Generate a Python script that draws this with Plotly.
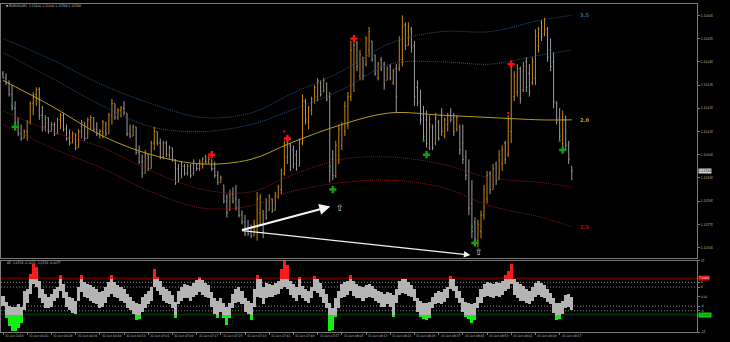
import plotly.graph_objects as go

# ---------------- main chart data (EURUSD M1, one bar per minute) ----------------
opens = [1.11640,1.11638,1.11636,1.11631,1.11625,1.11619,1.11614,1.11612,1.11615,1.11619,
 1.11627,1.11631,1.11633,1.11622,1.11617,1.11621,1.11615,1.11618,1.11614,1.11620,
 1.11622,1.11616,1.11612,1.11610,1.11614,1.11608,1.11615,1.11619,1.11612,1.11620,
 1.11621,1.11616,1.11614,1.11615,1.11619,1.11614,1.11622,1.11627,1.11621,1.11624,
 1.11625,1.11623,1.11614,1.11613,1.11617,1.11606,1.11602,1.11597,1.11605,1.11599,
 1.11610,1.11615,1.11610,1.11604,1.11610,1.11605,1.11608,1.11603,1.11599,1.11595,
 1.11600,1.11597,1.11600,1.11597,1.11601,1.11599,1.11601,1.11604,1.11602,1.11603,
 1.11599,1.11596,1.11593,1.11592,1.11585,1.11581,1.11588,1.11586,1.11582,1.11579,
 1.11576,1.11573,1.11572,1.11570,1.11574,1.11580,1.11581,1.11586,1.11581,1.11586,
 1.11581,1.11587,1.11590,1.11597,1.11604,1.11609,1.11607,1.11605,1.11600,1.11610,
 1.11628,1.11619,1.11624,1.11628,1.11630,1.11636,1.11632,1.11636,1.11630,1.11603,
 1.11596,1.11603,1.11609,1.11615,1.11618,1.11630,1.11635,1.11653,1.11639,1.11647,
 1.11644,1.11650,1.11654,1.11648,1.11638,1.11646,1.11644,1.11637,1.11643,1.11636,
 1.11642,1.11642,1.11646,1.11661,1.11652,1.11659,1.11652,1.11634,1.11628,1.11622,
 1.11620,1.11608,1.11617,1.11610,1.11619,1.11622,1.11613,1.11618,1.11623,1.11621,
 1.11616,1.11617,1.11610,1.11604,1.11598,1.11584,1.11576,1.11568,1.11572,1.11579,
 1.11586,1.11597,1.11590,1.11601,1.11595,1.11601,1.11610,1.11605,1.11615,1.11630,
 1.11632,1.11642,1.11633,1.11645,1.11640,1.11636,1.11638,1.11652,1.11662,1.11657,
 1.11659,1.11650,1.11645,1.11627,1.11621,1.11610,1.11620,1.11609,1.11600]
highs = [1.11641,1.11640,1.11637,1.11635,1.11628,1.11621,1.11618,1.11616,1.11620,1.11628,
 1.11632,1.11634,1.11634,1.11626,1.11622,1.11621,1.11619,1.11619,1.11621,1.11623,
 1.11623,1.11618,1.11616,1.11615,1.11614,1.11616,1.11620,1.11619,1.11621,1.11622,
 1.11621,1.11619,1.11616,1.11620,1.11619,1.11623,1.11629,1.11627,1.11625,1.11626,
 1.11628,1.11623,1.11618,1.11618,1.11617,1.11609,1.11605,1.11607,1.11605,1.11611,
 1.11617,1.11615,1.11612,1.11611,1.11611,1.11609,1.11608,1.11603,1.11601,1.11602,
 1.11601,1.11601,1.11601,1.11603,1.11601,1.11603,1.11604,1.11605,1.11604,1.11603,
 1.11602,1.11598,1.11596,1.11592,1.11588,1.11590,1.11591,1.11592,1.11586,1.11581,
 1.11579,1.11577,1.11575,1.11577,1.11589,1.11588,1.11581,1.11586,1.11588,1.11586,
 1.11589,1.11592,1.11599,1.11611,1.11611,1.11610,1.11609,1.11607,1.11612,1.11631,
 1.11629,1.11626,1.11630,1.11635,1.11638,1.11637,1.11638,1.11636,1.11632,1.11607,
 1.11611,1.11618,1.11619,1.11628,1.11632,1.11654,1.11655,1.11654,1.11650,1.11647,
 1.11656,1.11660,1.11654,1.11648,1.11645,1.11647,1.11645,1.11643,1.11644,1.11642,
 1.11644,1.11656,1.11665,1.11662,1.11662,1.11660,1.11654,1.11637,1.11633,1.11626,
 1.11624,1.11622,1.11618,1.11623,1.11620,1.11625,1.11621,1.11623,1.11625,1.11623,
 1.11622,1.11618,1.11618,1.11607,1.11603,1.11594,1.11578,1.11577,1.11581,1.11592,
 1.11598,1.11598,1.11601,1.11602,1.11607,1.11609,1.11611,1.11622,1.11643,1.11641,
 1.11644,1.11643,1.11645,1.11647,1.11644,1.11647,1.11659,1.11660,1.11663,1.11664,
 1.11660,1.11655,1.11649,1.11628,1.11625,1.11624,1.11622,1.11611,1.11600]
lows = [1.11638,1.11635,1.11630,1.11624,1.11618,1.11613,1.11611,1.11612,1.11611,1.11618,
 1.11622,1.11626,1.11620,1.11615,1.11615,1.11614,1.11615,1.11613,1.11614,1.11616,
 1.11615,1.11611,1.11609,1.11610,1.11607,1.11608,1.11612,1.11611,1.11612,1.11616,
 1.11615,1.11613,1.11612,1.11612,1.11613,1.11614,1.11618,1.11620,1.11620,1.11621,
 1.11622,1.11613,1.11612,1.11613,1.11605,1.11601,1.11595,1.11597,1.11598,1.11599,
 1.11607,1.11609,1.11603,1.11603,1.11604,1.11603,1.11602,1.11592,1.11593,1.11595,
 1.11596,1.11596,1.11595,1.11596,1.11598,1.11598,1.11599,1.11601,1.11601,1.11598,
 1.11595,1.11592,1.11593,1.11584,1.11578,1.11581,1.11584,1.11581,1.11578,1.11575,
 1.11570,1.11570,1.11569,1.11570,1.11568,1.11575,1.11569,1.11577,1.11581,1.11580,
 1.11581,1.11586,1.11588,1.11596,1.11601,1.11598,1.11599,1.11598,1.11600,1.11609,
 1.11618,1.11616,1.11622,1.11627,1.11628,1.11630,1.11632,1.11628,1.11593,1.11594,
 1.11595,1.11601,1.11607,1.11613,1.11616,1.11628,1.11632,1.11641,1.11637,1.11637,
 1.11643,1.11647,1.11645,1.11639,1.11637,1.11641,1.11633,1.11637,1.11637,1.11635,
 1.11623,1.11641,1.11643,1.11650,1.11652,1.11649,1.11626,1.11626,1.11618,1.11611,
 1.11608,1.11607,1.11607,1.11609,1.11611,1.11613,1.11612,1.11615,1.11619,1.11613,
 1.11615,1.11605,1.11601,1.11594,1.11579,1.11569,1.11566,1.11565,1.11569,1.11577,
 1.11584,1.11588,1.11590,1.11592,1.11594,1.11598,1.11601,1.11604,1.11610,1.11628,
 1.11630,1.11627,1.11632,1.11632,1.11630,1.11635,1.11635,1.11649,1.11654,1.11656,
 1.11645,1.11641,1.11625,1.11618,1.11611,1.11608,1.11607,1.11601,1.11594]
closes = [1.11638,1.11636,1.11631,1.11625,1.11619,1.11614,1.11612,1.11615,1.11619,1.11627,
 1.11631,1.11633,1.11622,1.11617,1.11621,1.11615,1.11618,1.11614,1.11620,1.11622,
 1.11616,1.11612,1.11610,1.11614,1.11608,1.11615,1.11619,1.11612,1.11620,1.11621,
 1.11616,1.11614,1.11615,1.11619,1.11614,1.11622,1.11627,1.11621,1.11624,1.11625,
 1.11623,1.11614,1.11613,1.11617,1.11606,1.11602,1.11597,1.11605,1.11599,1.11610,
 1.11615,1.11610,1.11604,1.11610,1.11605,1.11608,1.11603,1.11593,1.11594,1.11600,
 1.11597,1.11600,1.11596,1.11602,1.11599,1.11602,1.11603,1.11602,1.11603,1.11599,
 1.11596,1.11593,1.11595,1.11585,1.11580,1.11588,1.11585,1.11582,1.11579,1.11576,
 1.11571,1.11571,1.11570,1.11575,1.11586,1.11587,1.11572,1.11578,1.11587,1.11581,
 1.11588,1.11591,1.11598,1.11609,1.11610,1.11600,1.11601,1.11599,1.11611,1.11628,
 1.11620,1.11625,1.11629,1.11634,1.11637,1.11631,1.11637,1.11629,1.11598,1.11596,
 1.11609,1.11616,1.11618,1.11626,1.11630,1.11650,1.11652,1.11643,1.11648,1.11639,
 1.11655,1.11658,1.11646,1.11640,1.11644,1.11642,1.11635,1.11642,1.11638,1.11641,
 1.11630,1.11654,1.11660,1.11652,1.11660,1.11651,1.11630,1.11627,1.11620,1.11613,
 1.11610,1.11618,1.11608,1.11621,1.11612,1.11615,1.11620,1.11622,1.11620,1.11615,
 1.11621,1.11607,1.11603,1.11596,1.11582,1.11572,1.11569,1.11575,1.11579,1.11590,
 1.11596,1.11590,1.11599,1.11594,1.11605,1.11607,1.11603,1.11620,1.11640,1.11639,
 1.11642,1.11629,1.11643,1.11634,1.11632,1.11645,1.11656,1.11659,1.11656,1.11663,
 1.11647,1.11643,1.11628,1.11620,1.11613,1.11620,1.11609,1.11603,1.11598]
bar_index = list(range(len(opens)))

# envelope bands (values read at anchor bars)
band_idx = [0, 16, 33, 49, 66, 82, 95, 112, 128, 145, 161, 178, 188]
band_outer_blue = [1.11655,1.11646,1.11635,1.11627,1.11621,1.11623,1.11631,1.11641,1.11653,1.11658,1.11658,1.11663,1.11665]
band_inner_blue = [1.11649,1.11638,1.11626,1.11617,1.11615,1.11618,1.11624,1.11633,1.11644,1.11645,1.11644,1.11648,1.11650]
band_middle = [1.11637,1.11626,1.11613,1.11605,1.11601,1.11603,1.11610,1.11618,1.11623,1.11622,1.11621,1.11620,1.11620]
band_inner_red = [1.11624,1.11615,1.11608,1.11598,1.11590,1.11589,1.11596,1.11603,1.11604,1.11601,1.11595,1.11593,1.11591]
band_outer_red = [1.11618,1.11608,1.11599,1.11589,1.11582,1.11583,1.11589,1.11593,1.11594,1.11591,1.11583,1.11578,1.11574]
band_labels = ["3.5", "2.0", "2.5"]

# signals
buy_idx = [4, 109, 140, 156, 185]
buy_price = [1.11617, 1.11590, 1.11605, 1.11567, 1.11607]
buy_dot_idx = [3, 108, 139, 155, 184]
buy_dot_price = [1.11626, 1.11600, 1.11611, 1.11574, 1.11611]
sell_idx = [69, 94, 116, 168]
sell_price = [1.11605, 1.11612, 1.11655, 1.11644]
sell_dot_idx = [68, 93, 167]
sell_dot_price = [1.11604, 1.11615, 1.11623]

# hand-drawn arrows (tail -> heads)
arrow_tail = (78.5, 1.115724)
arrow_heads = [(108.2, 1.115827), (154.5, 1.115618)]
arrow_marks = [(109.4, 1.115822), (155.4, 1.115630)]

price_ticks = [1.11565,1.11575,1.11585,1.11595,1.11605,1.11615,1.11625,1.11635,1.11645,1.11655,1.11665]
last_price = 1.11598
header_text = "▼ EURUSD,M1  1.11600 1.11600 1.11594 1.11598"

# ---------------- oscillator sub window ----------------
osc_hi = [0.4,-2.1,-3.8,-4.2,-4.2,-3.3,-4.2,2.5,3.3,9.6,
 13.8,12.5,6.7,3.3,1.3,0.0,1.3,3.3,4.2,9.2,
 5.4,2.1,0.0,-0.8,-1.7,4.2,9.2,6.3,5.4,5.0,
 4.2,3.3,2.1,2.5,4.2,6.3,9.2,6.3,5.0,4.2,
 3.3,1.3,0.0,-1.7,-2.9,-3.3,0.0,1.3,2.5,4.2,
 11.7,8.3,6.7,4.2,3.3,2.5,0.8,-2.1,2.5,4.2,
 5.4,5.0,4.6,5.8,7.1,7.9,7.1,5.8,5.0,2.1,
 -0.8,-1.7,-0.8,-2.9,-4.2,-2.9,1.3,3.3,4.2,2.5,
 -0.8,-1.7,-2.9,3.3,9.2,7.5,4.2,5.8,5.4,5.0,
 5.8,6.7,11.7,15.0,13.3,6.7,5.4,4.2,8.3,4.6,
 3.3,2.5,4.2,8.8,7.5,5.8,3.3,1.3,-2.9,-5.0,
 -0.8,2.5,5.4,6.3,6.7,9.2,6.7,5.4,4.6,4.2,
 5.0,5.4,4.6,3.3,2.5,2.1,1.3,2.1,1.7,0.8,
 3.3,6.7,7.5,7.5,6.3,5.0,3.3,-0.8,-1.7,-2.5,
 -2.9,-2.1,0.0,1.7,2.5,2.1,3.3,4.2,8.8,7.5,
 4.6,2.5,-0.8,-2.1,-2.9,-3.3,-2.9,0.0,3.3,5.4,
 6.3,5.8,5.4,6.3,5.8,6.7,9.2,10.8,13.8,7.5,
 6.3,5.4,4.6,3.3,2.5,4.2,5.8,6.7,5.8,5.0,
 3.3,1.7,-0.8,-2.5,-2.9,-1.7,0.8,1.3,0.0]
osc_lo = [-3.8,-9.2,-12.5,-14.6,-14.6,-13.3,-11.3,-5.8,-2.9,1.3,
 5.4,4.2,-0.8,-2.9,-5.0,-5.0,-4.2,-1.7,-0.8,2.5,
 -0.8,-4.2,-5.8,-7.1,-7.5,-1.7,2.1,0.0,-0.8,-1.7,
 -2.5,-3.3,-5.0,-4.2,-2.5,0.0,1.3,0.0,-0.8,-1.7,
 -2.9,-5.0,-5.8,-7.5,-10.0,-9.6,-6.3,-5.0,-3.3,-1.7,
 4.2,2.5,0.8,-1.7,-2.5,-3.3,-5.0,-9.2,-3.3,-1.7,
 -0.8,-0.8,-1.7,0.0,0.8,2.1,0.8,0.0,-0.8,-4.2,
 -7.5,-9.2,-6.7,-9.2,-12.1,-9.2,-5.0,-2.5,-2.1,-3.3,
 -6.3,-7.5,-10.0,-4.2,0.0,-0.8,-3.3,-0.8,0.0,0.0,
 0.8,1.3,3.3,4.2,3.3,0.8,-0.8,-1.7,0.8,-0.8,
 -1.7,-2.5,-0.8,2.5,1.7,0.0,-2.9,-5.0,-14.6,-14.2,
 -8.3,-5.0,-0.8,0.0,0.8,2.5,0.4,-0.8,-0.8,-1.7,
 -0.8,0.0,-0.8,-1.7,-2.9,-4.2,-4.6,-3.3,-4.2,-8.3,
 -2.9,0.8,1.7,1.3,0.4,0.0,-1.7,-6.7,-8.3,-9.6,
 -10.0,-9.2,-5.0,-3.3,-2.9,-3.3,-2.1,-0.8,3.3,2.5,
 -0.8,-2.9,-6.7,-8.3,-9.6,-11.3,-10.0,-5.0,-2.5,0.0,
 0.4,0.0,-0.4,0.4,0.0,0.8,2.5,3.3,5.4,0.8,
 -0.8,-1.7,-1.7,-2.9,-3.3,-1.7,0.0,0.8,0.0,-0.8,
 -2.1,-3.3,-7.1,-10.0,-9.6,-7.5,-5.0,-4.2,-5.8]
level_upper = 7.6
level_lower = -7.6
dotted_levels = [6, 4, -4, -6]
osc_ticks = [15, 6, 4, 0, -4, -6, -15]
osc_tick_text = ["15", "6", "4", "0.00", "-4", "-6", "-15"]
osc_header = "ΔΣ -3.6538 -6.1612 -3.6538 -4.0077"

# ---------------- time axis ----------------
time_idx = list(range(0, 185, 8))
time_text = ["31 Oct 2019","31 Oct 06:20","31 Oct 06:28","31 Oct 06:36","31 Oct 06:44",
 "31 Oct 06:53","31 Oct 07:01","31 Oct 07:09","31 Oct 07:17","31 Oct 07:25","31 Oct 07:33",
 "31 Oct 07:41","31 Oct 07:49","31 Oct 07:57","31 Oct 08:05","31 Oct 08:13","31 Oct 08:21",
 "31 Oct 08:29","31 Oct 08:37","31 Oct 08:45","31 Oct 08:53","31 Oct 09:01","31 Oct 09:09",
 "31 Oct 09:17"]

# ---------------- styling ----------------
ORANGE = "#c98614"
GRAY = "#9c9c9c"
AXIS = "#7a7a7a"
TXT = "#c4c4c4"
BLUE = "#1f5585"
YELLOW = "#b49c20"
RED = "#8c1818"
FONT = "DejaVu Sans Condensed, Liberation Sans Narrow, DejaVu Sans"
SMALL = 3.3
X_RANGE = [-0.66, 229.4]

fig = go.Figure()

for vals, col in [(band_outer_blue, BLUE), (band_inner_blue, BLUE),
                  (band_inner_red, RED), (band_outer_red, RED)]:
    fig.add_trace(go.Scatter(x=band_idx, y=vals, mode="lines", xaxis="x", yaxis="y",
                             line=dict(color=col, width=1, dash="1px,1px", shape="spline", smoothing=1),
                             hoverinfo="skip"))

fig.add_trace(go.Ohlc(x=bar_index, open=opens, high=highs, low=lows, close=closes,
                      xaxis="x", yaxis="y", tickwidth=0.3,
                      increasing=dict(line=dict(color=ORANGE, width=1)),
                      decreasing=dict(line=dict(color=GRAY, width=1)),
                      hoverinfo="skip"))

fig.add_trace(go.Scatter(x=band_idx, y=band_middle, mode="lines", xaxis="x", yaxis="y",
                         line=dict(color=YELLOW, width=1, shape="spline", smoothing=1), hoverinfo="skip"))

fig.add_trace(go.Scatter(x=buy_idx, y=buy_price, mode="markers", xaxis="x", yaxis="y",
                         marker=dict(symbol="cross", size=6, color="#10a010", line=dict(width=0))))
fig.add_trace(go.Scatter(x=buy_dot_idx, y=buy_dot_price, mode="markers", xaxis="x", yaxis="y",
                         marker=dict(symbol="square", size=2, color="#10a010")))
fig.add_trace(go.Scatter(x=sell_idx, y=sell_price, mode="markers", xaxis="x", yaxis="y",
                         marker=dict(symbol="cross", size=6, color="#ff1010", line=dict(width=0))))
fig.add_trace(go.Scatter(x=sell_dot_idx, y=sell_dot_price, mode="markers", xaxis="x", yaxis="y",
                         marker=dict(symbol="square", size=2, color="#ff1010")))

# oscillator band: gray between levels, red above, green below
g_x, g_base, g_h = [], [], []
r_x, r_h = [], []
gr_x, gr_base, gr_h = [], [], []
for i, (h, l) in enumerate(zip(osc_hi, osc_lo)):
    b = max(l, level_lower)
    t = min(h, level_upper)
    g_x.append(i)
    g_base.append(b)
    g_h.append(max(t - b, 0))
    if h > level_upper:
        r_x.append(i)
        r_h.append(h - level_upper)
    if l < level_lower:
        gr_x.append(i)
        gr_base.append(l)
        gr_h.append(level_lower - l)

fig.add_trace(go.Bar(x=g_x, y=g_h, base=g_base, width=1, xaxis="x2", yaxis="y2",
                     marker=dict(color="#b4b4b4", line=dict(width=0)), hoverinfo="skip"))
fig.add_trace(go.Bar(x=r_x, y=r_h, base=[level_upper] * len(r_x), width=1, xaxis="x2", yaxis="y2",
                     marker=dict(color="#ff1a1a", line=dict(width=0)), hoverinfo="skip"))
fig.add_trace(go.Bar(x=gr_x, y=gr_h, base=gr_base, width=1, xaxis="x2", yaxis="y2",
                     marker=dict(color="#12f012", line=dict(width=0)), hoverinfo="skip"))

shapes = []
for lv in dotted_levels:
    shapes.append(dict(type="line", xref="x2 domain", yref="y2", x0=0, x1=1, y0=lv, y1=lv,
                       line=dict(color="#8a8a8a", width=1, dash="1px,2px"), layer="below"))
shapes.append(dict(type="line", xref="x2 domain", yref="y2", x0=0, x1=1, y0=level_upper, y1=level_upper,
                   line=dict(color="#520000", width=2), layer="below"))
shapes.append(dict(type="line", xref="x2 domain", yref="y2", x0=0, x1=1, y0=level_lower, y1=level_lower,
                   line=dict(color="#003200", width=2), layer="below"))

ann = []
ann.append(dict(text=header_text, xref="paper", yref="paper", x=0.004, y=1 - 4 / 342, xanchor="left",
                yanchor="middle", showarrow=False, font=dict(size=SMALL, color=TXT, family=FONT)))
ann.append(dict(text=osc_header, xref="paper", yref="paper", x=0.006, y=1 - 264 / 342, xanchor="left",
                yanchor="middle", showarrow=False, font=dict(size=SMALL, color=TXT, family=FONT)))
for i, t in zip(time_idx, time_text):
    ann.append(dict(text=t, xref="x2", yref="paper", x=i, y=1 - 337.5 / 342, xanchor="left",
                    yanchor="middle", showarrow=False, font=dict(size=SMALL, color=TXT, family=FONT)))
for vals, col, lab in [(band_outer_blue, "#2a6aa5", band_labels[0]), (band_middle, "#c8aa20", band_labels[1]),
                       (band_outer_red, "#b01818", band_labels[2])]:
    ann.append(dict(text="<b>" + lab + "</b>", xref="x", yref="y", x=band_idx[-1] + 2, y=vals[-1],
                    xanchor="left", yanchor="middle", showarrow=False,
                    font=dict(size=5, color=col, family="DejaVu Sans")))
for (hx, hy), w in zip(arrow_heads, [2.2, 1.3]):
    ann.append(dict(x=hx, y=hy, ax=arrow_tail[0], ay=arrow_tail[1], xref="x", yref="y",
                    axref="x", ayref="y", text="", showarrow=True, arrowhead=2, arrowsize=1.0,
                    arrowwidth=w, arrowcolor="#f2f2f2", standoff=0, startstandoff=0))
for (mx, my) in arrow_marks:
    ann.append(dict(text="⇧", xref="x", yref="y", x=mx, y=my, xanchor="left", yanchor="middle",
                    showarrow=False, font=dict(size=9, color="#d8d8d8", family="DejaVu Sans")))
ann.append(dict(text=f"{last_price:.5f}", xref="paper", yref="y", x=1, y=last_price, xanchor="left",
                yanchor="middle", xshift=1, showarrow=False, bgcolor="#d0d0d0", borderpad=0,
                font=dict(size=SMALL, color="#000000", family=FONT)))
ann.append(dict(text=f"{level_upper:.4f}", xref="paper", yref="y2", x=1, y=level_upper, xanchor="left",
                yanchor="middle", xshift=1, showarrow=False, bgcolor="#e00000", borderpad=0,
                font=dict(size=SMALL, color="#ffffff", family=FONT)))
ann.append(dict(text=f"{level_lower:.4f}", xref="paper", yref="y2", x=1, y=level_lower, xanchor="left",
                yanchor="middle", xshift=1, showarrow=False, bgcolor="#10d010", borderpad=0,
                font=dict(size=SMALL, color="#003000", family=FONT)))

axis_common = dict(showgrid=False, zeroline=False, showline=True, mirror=True, linecolor=AXIS, linewidth=1)

fig.update_layout(
    width=730, height=342, margin=dict(l=0, r=33, t=0, b=0),
    paper_bgcolor="#000000", plot_bgcolor="#000000", showlegend=False, hovermode=False,
    bargap=0, barmode="overlay",
    font=dict(family=FONT, size=SMALL, color=TXT),
    xaxis=dict(domain=[0, 1], range=X_RANGE, anchor="y", showticklabels=False, ticks="",
               rangeslider=dict(visible=False), **axis_common),
    yaxis=dict(domain=[1 - 259 / 342, 1 - 2 / 342], range=[1.1156053, 1.1166990], side="right", anchor="x",
               tickvals=price_ticks, ticktext=[f"{v:.5f}" for v in price_ticks], ticks="outside",
               ticklen=2, tickcolor=AXIS, tickfont=dict(size=SMALL, color=TXT, family=FONT), **axis_common),
    xaxis2=dict(domain=[0, 1], range=X_RANGE, anchor="y2", showticklabels=False, ticks="outside",
                ticklen=2, tickcolor=AXIS, tickvals=time_idx, **axis_common),
    yaxis2=dict(domain=[1 - 334 / 342, 1 - 262 / 342], range=[-15, 15], side="right", anchor="x2",
                tickvals=osc_ticks, ticktext=osc_tick_text, ticks="outside", ticklen=2, tickcolor=AXIS,
                tickfont=dict(size=SMALL, color=TXT, family=FONT), **axis_common),
    shapes=shapes, annotations=ann,
)

fig.write_html("out.html", config={"displayModeBar": False})
